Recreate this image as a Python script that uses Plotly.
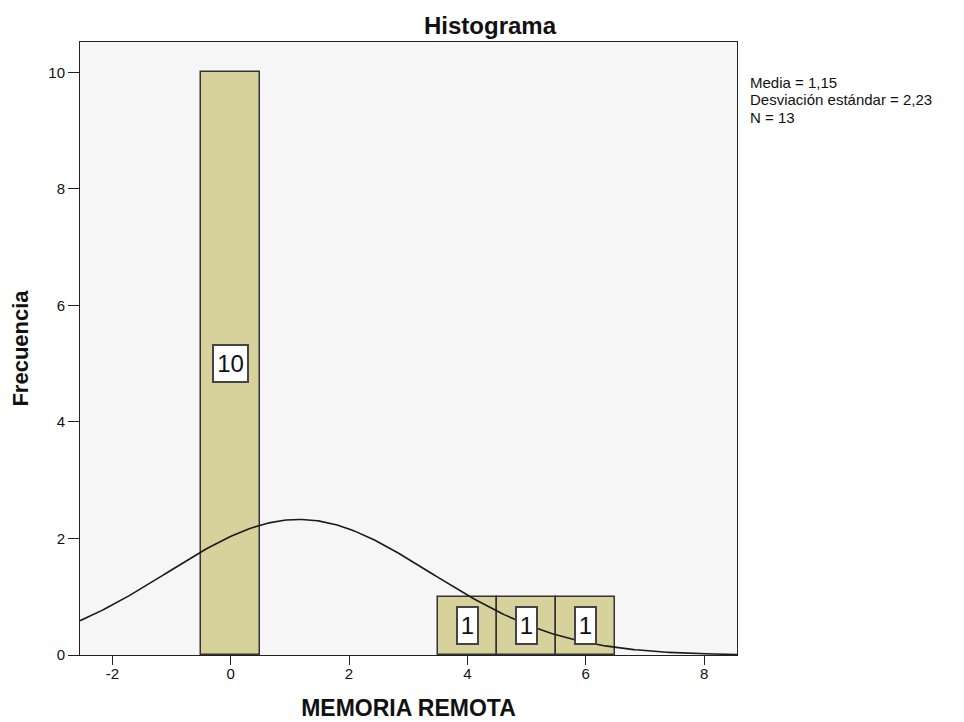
import numpy as np
import plotly.graph_objects as go

# Data
bin_centers = [0, 4, 5, 6]
frequencies = [10, 1, 1, 1]
bar_labels = ["10", "1", "1", "1"]
mean_val = 1.15
std_val = 2.23
n_val = 13
x_ticks = [-2, 0, 2, 4, 6, 8]
y_ticks = [0, 2, 4, 6, 8, 10]
stats_text = ["Media = 1,15", "Desviación estándar = 2,23", "N = 13"]

x_range = [-2.546, 8.556]
y_range = [0, 10.52]

fig = go.Figure()

fig.add_trace(go.Bar(
    x=bin_centers, y=frequencies, width=1,
    marker=dict(color="#d7d29c", line=dict(color="#333333", width=1.5)),
    hoverinfo="skip", showlegend=False,
))

# Normal curve from displayed mean, sd, N (bin width 1)
xs = np.linspace(x_range[0], x_range[1], 300)
ys = n_val * 1.0 / (std_val * np.sqrt(2 * np.pi)) * np.exp(-0.5 * ((xs - mean_val) / std_val) ** 2)
fig.add_trace(go.Scatter(x=xs, y=ys, mode="lines", line=dict(color="#1a1a1a", width=1.6),
                         hoverinfo="skip", showlegend=False))

for xc, f, lab in zip(bin_centers, frequencies, bar_labels):
    fig.add_annotation(x=xc, y=f / 2, text=lab, showarrow=False,
                       width=14 * len(lab) + 3, height=33,
                       font=dict(family="Liberation Sans, Arial", size=24, color="#111"),
                       bgcolor="white", bordercolor="#444444", borderwidth=2, borderpad=1)

stats_y = [0.934, 0.906, 0.877]
for line, yy in zip(stats_text, stats_y):
    fig.add_annotation(xref="paper", yref="paper", x=1.016, y=yy, xanchor="left", yanchor="middle",
                       text=line, showarrow=False, align="left",
                       font=dict(family="Liberation Sans, Arial", size=15, color="#111"))

fig.update_layout(
    width=964, height=722,
    margin=dict(l=72, r=235, t=34, b=75),
    paper_bgcolor="white", plot_bgcolor="#f6f6f6",
    title=dict(text="<b>Histograma</b>", x=0.5, xanchor="center", xref="container", y=0.976, yanchor="middle",
               font=dict(family="Liberation Sans, Arial", size=24, color="#111")),
    bargap=0,
    font=dict(family="Liberation Sans, Arial", size=15, color="#111"),
)
fig.update_xaxes(range=x_range, tickvals=x_ticks, ticktext=[str(v) for v in x_ticks],
                 showgrid=False, zeroline=False, ticks="outside", ticklen=9, tickcolor="#222",
                 ticklabelstandoff=-4,
                 showline=True, linecolor="#222", linewidth=1, mirror=True, automargin=False,
                 title=dict(text="<b>MEMORIA REMOTA</b>", font=dict(size=23), standoff=18))
fig.update_yaxes(range=y_range, tickvals=y_ticks, ticktext=[str(v) for v in y_ticks],
                 showgrid=False, zeroline=False, ticks="outside", ticklen=11, tickcolor="#222",
                 showline=True, linecolor="#222", linewidth=1, mirror=True, automargin=False,
                 title=dict(text="<b>Frecuencia</b>", font=dict(size=22), standoff=15))

fig.write_html("out.html")
